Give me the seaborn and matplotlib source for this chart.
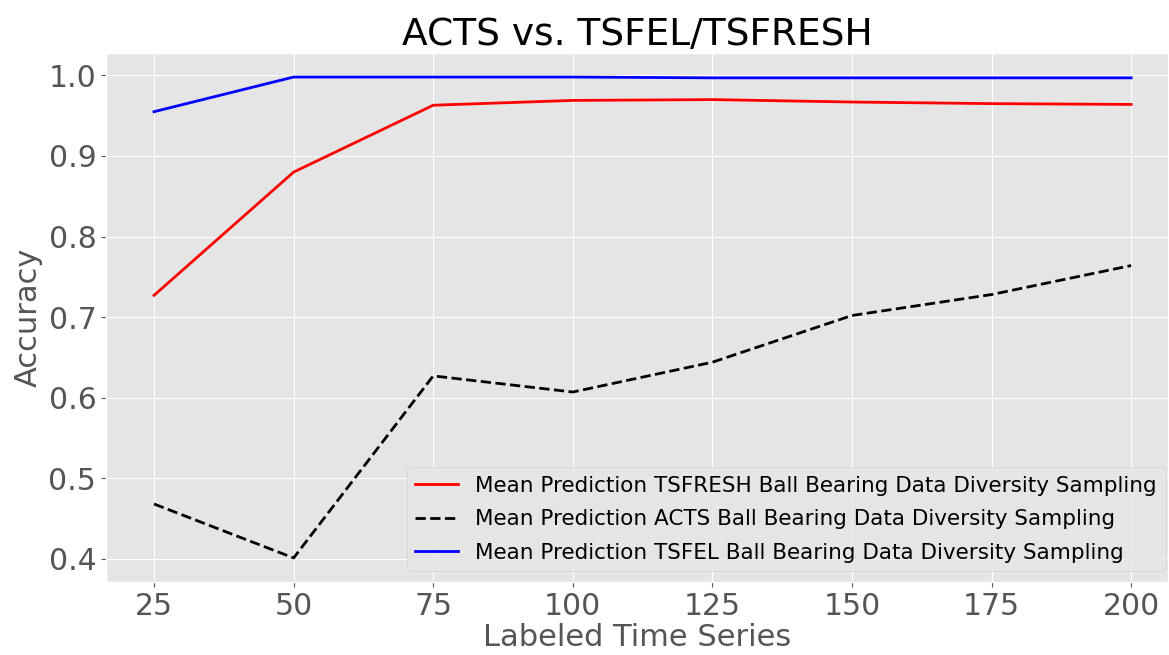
import matplotlib
matplotlib.use("Agg")
import matplotlib.pyplot as plt
import seaborn as sns
import pandas as pd

labeled = [25, 50, 75, 100, 125, 150, 175, 200]
tsfresh = [0.727, 0.880, 0.963, 0.969, 0.970, 0.967, 0.965, 0.964]
acts = [0.468, 0.401, 0.627, 0.607, 0.644, 0.702, 0.728, 0.764]
tsfel = [0.955, 0.998, 0.998, 0.998, 0.997, 0.997, 0.997, 0.997]

names = [
    "Mean Prediction TSFRESH Ball Bearing Data Diversity Sampling",
    "Mean Prediction ACTS Ball Bearing Data Diversity Sampling",
    "Mean Prediction TSFEL Ball Bearing Data Diversity Sampling",
]

plt.style.use("ggplot")
fig = plt.figure(figsize=(11.69, 6.55), dpi=100)
ax = fig.add_axes([106 / 1169, 1 - 582 / 655, 1062 / 1169, 529 / 655])

df1 = pd.DataFrame({"x": labeled, "y": tsfresh})
df2 = pd.DataFrame({"x": labeled, "y": acts})
df3 = pd.DataFrame({"x": labeled, "y": tsfel})

sns.lineplot(data=df1, x="x", y="y", ax=ax, color="red", linewidth=2, label=names[0])
sns.lineplot(data=df2, x="x", y="y", ax=ax, color="black", linewidth=2, linestyle="--", label=names[1])
sns.lineplot(data=df3, x="x", y="y", ax=ax, color="blue", linewidth=2, label=names[2])

ax.set_xlim(16.4, 206.6)
ax.set_xticks([25, 50, 75, 100, 125, 150, 175, 200])
ax.set_yticks([0.4, 0.5, 0.6, 0.7, 0.8, 0.9, 1.0])
ax.tick_params(labelsize=21.5)
ax.set_xlabel("Labeled Time Series", fontsize=22, labelpad=2)
ax.set_ylabel("Accuracy", fontsize=22, labelpad=4)
ax.set_title("ACTS vs. TSFEL/TSFRESH", fontsize=27, color="black")
ax.legend(loc="lower right", fontsize=15.5, borderaxespad=0.5,
          labelspacing=0.62, bbox_to_anchor=(1.008, 0.0))

fig.savefig("out.png", dpi=100)
